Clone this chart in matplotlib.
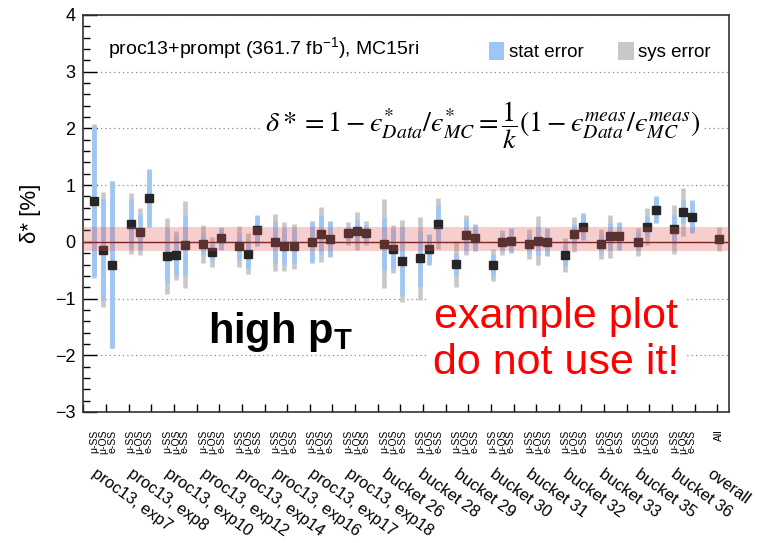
import numpy as np
import matplotlib
matplotlib.use('Agg')
import matplotlib.pyplot as plt
from matplotlib.patches import Patch

plt.rcParams['font.family'] = ['Liberation Sans', 'DejaVu Sans']
plt.rcParams['mathtext.fontset'] = 'custom'
plt.rcParams['mathtext.rm'] = 'Liberation Sans'
plt.rcParams['mathtext.it'] = 'Liberation Sans:italic'
plt.rcParams['mathtext.bf'] = 'Liberation Sans:bold'

groups = ['proc13, exp7', 'proc13, exp8', 'proc13, exp10', 'proc13, exp12',
          'proc13, exp14', 'proc13, exp16', 'proc13, exp17', 'proc13, exp18',
          'bucket 26', 'bucket 28', 'bucket 29', 'bucket 30', 'bucket 31',
          'bucket 32', 'bucket 33', 'bucket 35', 'bucket 36']
channels = ['\u03bc-SS', '\u03bc-OS', 'e-SS']

# delta* per group and channel, in %
delta = [0.72, -0.14, -0.40,
         0.32, 0.18, 0.78,
         -0.25, -0.24, -0.05,
         -0.04, -0.18, 0.06,
         -0.08, -0.21, 0.20,
         -0.01, -0.08, -0.08,
         -0.01, 0.13, 0.05,
         0.15, 0.19, 0.15,
         -0.03, -0.13, -0.34,
         -0.29, -0.13, 0.32,
         -0.39, 0.12, 0.07,
         -0.41, -0.01, 0.02,
         -0.04, 0.02, 0.00,
         -0.24, 0.13, 0.27,
         -0.04, 0.10, 0.10,
         0.00, 0.27, 0.57,
         0.22, 0.53, 0.44]
stat_err = [1.33, 0.89, 1.47,
            0.43, 0.31, 0.51,
            0.48, 0.35, 0.53,
            0.20, 0.15, 0.18,
            0.24, 0.25, 0.27,
            0.37, 0.33, 0.30,
            0.37, 0.34, 0.32,
            0.12, 0.20, 0.15,
            0.47, 0.35, 0.60,
            0.48, 0.27, 0.33,
            0.20, 0.28, 0.24,
            0.20, 0.16, 0.22,
            0.18, 0.25, 0.25,
            0.18, 0.18, 0.24,
            0.17, 0.24, 0.25,
            0.17, 0.18, 0.24,
            0.26, 0.20, 0.29]
sys_err = [1.35, 1.01, 1.48,
           0.54, 0.41, 0.45,
           0.67, 0.43, 0.77,
           0.34, 0.27, 0.20,
           0.36, 0.36, 0.25,
           0.50, 0.43, 0.40,
           0.30, 0.48, 0.30,
           0.20, 0.34, 0.21,
           0.79, 0.42, 0.72,
           0.73, 0.22, 0.45,
           0.41, 0.36, 0.22,
           0.28, 0.22, 0.20,
           0.27, 0.43, 0.22,
           0.30, 0.31, 0.20,
           0.27, 0.38, 0.20,
           0.25, 0.33, 0.20,
           0.43, 0.42, 0.25]
overall = 0.05
overall_stat = 0.03
overall_sys = 0.22

stat_col = '#9dc6f4'
sys_col = '#c8c8c8'

# x layout: three channels per group, one empty slot between groups
ngr = len(groups)
x = np.array([4 * g + j for g in range(ngr) for j in range(3)]) + 1.2
x_all = 4 * ngr + 1 + 1.2

v = np.append(delta, overall)
st = np.append(stat_err, overall_stat)
sy = np.append(sys_err, overall_sys)
xs = np.append(x, x_all)

fig = plt.figure(figsize=(7.57, 5.43), dpi=100)
ax = fig.add_axes([0.1103, 0.2413, 0.8527, 0.7311])

ax.vlines(xs, v - sy, v + sy, colors=sys_col, linewidth=3.3, zorder=2)
ax.vlines(xs, v - st, v + st, colors=stat_col, linewidth=3.3, zorder=2.2)
ax.axhline(0, color='#5a1818', lw=1.0, zorder=2.5)
ax.plot(xs, v, 's', ms=5.5, color='#262626', zorder=3)
ax.axhspan(overall - overall_sys, overall + overall_sys, color='#e05050',
           alpha=0.28, lw=0, zorder=3.5)

ax.set_xlim(0, 71.3)
ax.set_ylim(-3, 4)
ax.set_xticks(np.arange(0, 71, 2.5))
ax.set_yticks(range(-3, 5))
ax.set_yticks(np.arange(-3, 4.01, 0.2), minor=True)
ax.tick_params(axis='x', direction='in', length=6, width=1, labelbottom=False)
ax.tick_params(axis='y', which='major', direction='in', length=10, width=1,
               labelsize=13, pad=6)
ax.tick_params(axis='y', which='minor', direction='in', length=5, width=1)
for s in ax.spines.values():
    s.set_linewidth(1.2)
    s.set_color('#333333')
ax.grid(axis='y', linestyle=(0, (1, 2.5)), color='#8a8a8a', lw=0.9)
ax.set_axisbelow(True)
ax.set_ylabel('\u03b4* [%]', fontsize=16, labelpad=10)

# channel and group labels under the axis
trans = ax.get_xaxis_transform()
for i, xi in enumerate(x):
    ax.text(xi, -0.045, channels[i % 3], transform=trans, rotation=90,
            ha='center', va='top', fontsize=7.5)
ax.text(x_all, -0.045, 'All', transform=trans, rotation=90,
        ha='center', va='top', fontsize=7.5)
for g, name in enumerate(groups + ['overall']):
    ax.text(4 * g + 1.6, -0.136, name, transform=trans, rotation=-36,
            rotation_mode='anchor', ha='left', va='top', fontsize=11.8)

ax.text(0.038, 0.902, 'proc13+prompt (361.7 fb$^{-1}$), MC15ri',
        transform=ax.transAxes, fontsize=14, va='baseline')
ax.legend(handles=[Patch(fc=stat_col, lw=0), Patch(fc=sys_col, lw=0)],
          labels=['stat error', 'sys error'], ncol=2, frameon=False,
          loc='upper left', bbox_to_anchor=(0.613, 0.955), borderpad=0,
          fontsize=13.5, handlelength=0.85, handleheight=1.07,
          handletextpad=0.25, columnspacing=1.8)

eps = '\u03f5'
formula = (r'$\delta* = 1 - EPS^{*}_{Data}/EPS^{*}_{MC}'
           r' = \dfrac{1}{k}(1 - EPS^{meas}_{Data}/EPS^{meas}_{MC})$').replace('EPS', eps)
ax.text(0.281, 0.723, formula, transform=ax.transAxes, fontsize=20.3,
        va='center', math_fontfamily='stix',
        bbox=dict(fc='white', ec='none', pad=3), zorder=6)
ax.text(0.193, 0.175, r'high p$_\mathbf{T}$', transform=ax.transAxes,
        fontsize=30, fontweight='bold', va='baseline', zorder=6)
ax.text(0.732, 0.29, 'example plot\ndo not use it!', transform=ax.transAxes,
        fontsize=31, color='#ff0000', ha='center', va='top',
        bbox=dict(fc='white', ec='none', pad=4), zorder=6)

fig.savefig('out.png', dpi=100)
